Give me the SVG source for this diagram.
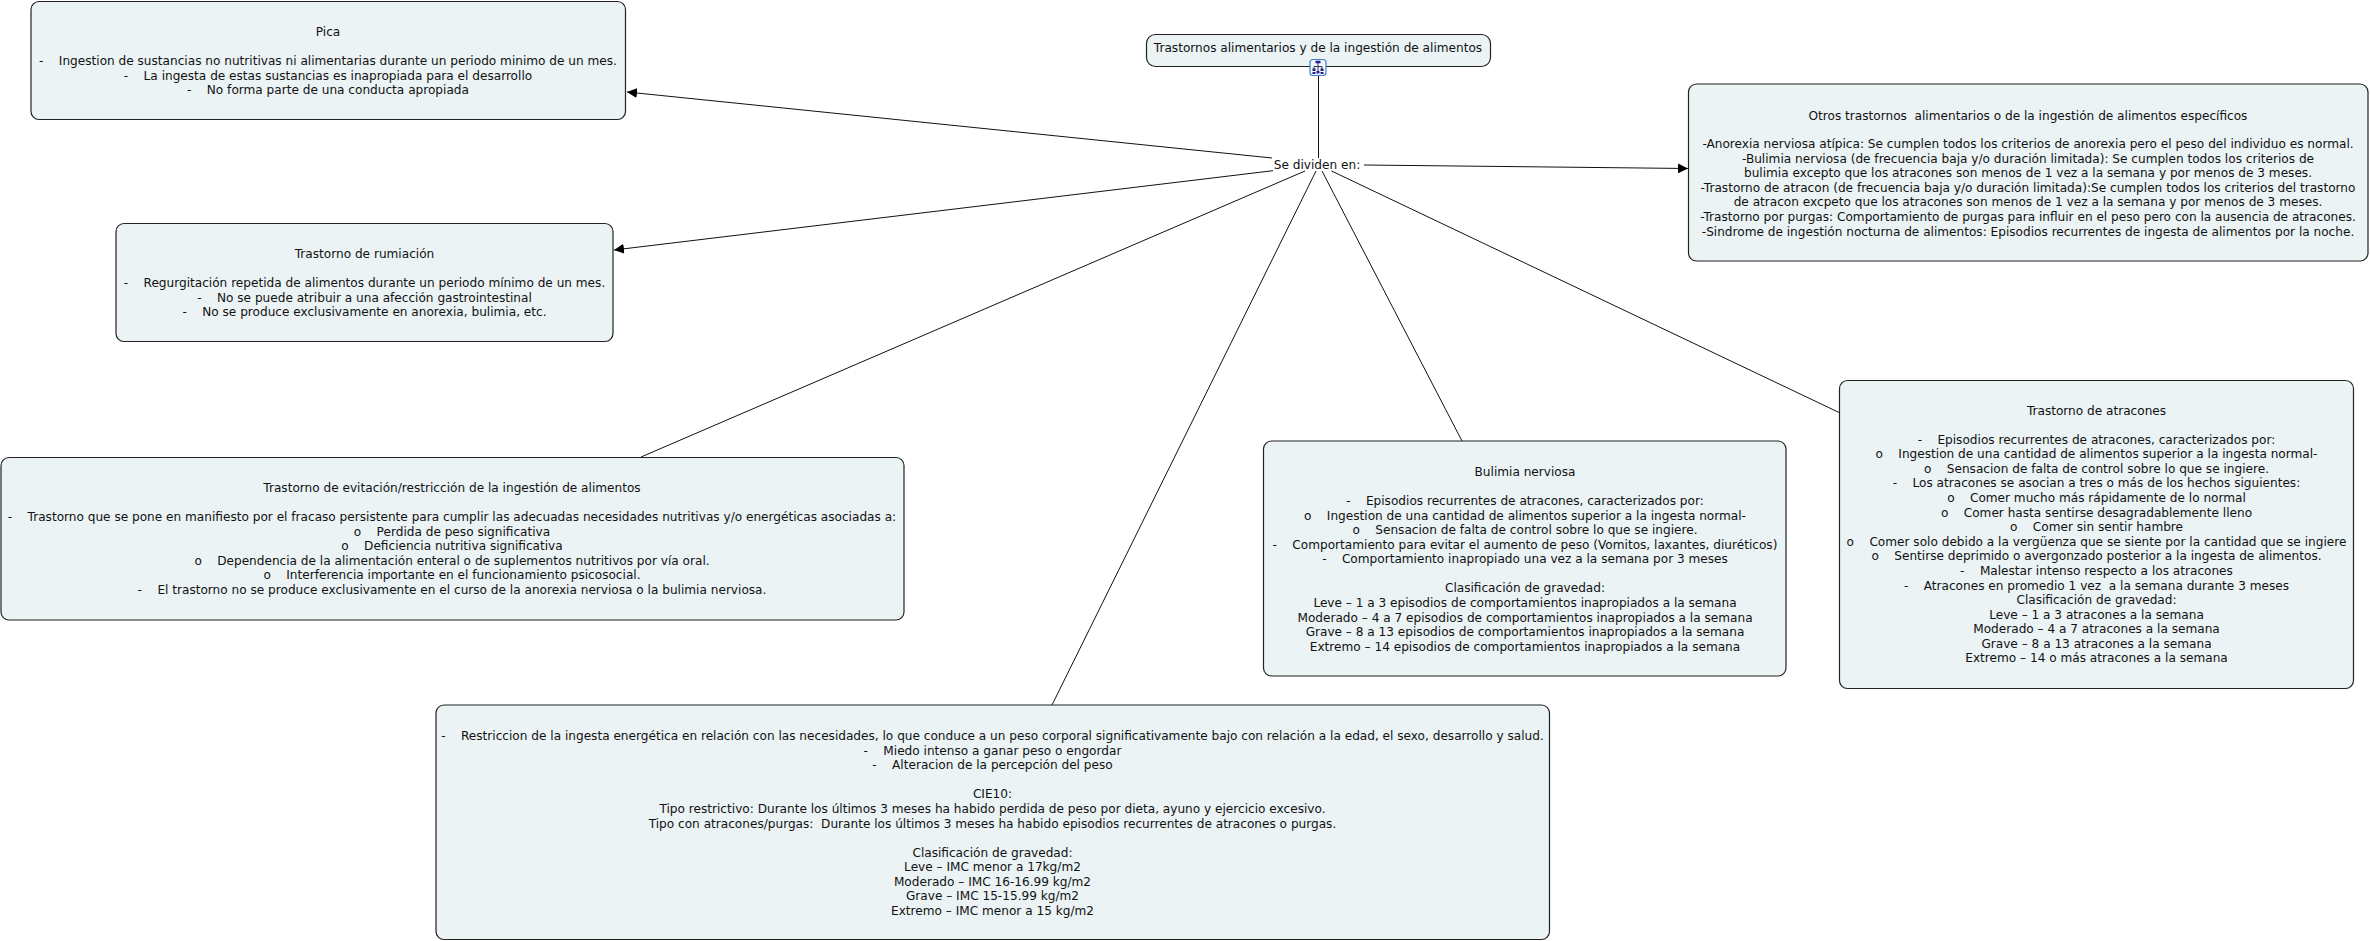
<svg xmlns="http://www.w3.org/2000/svg" width="2370" height="941" viewBox="0 0 2370 941">
<style>
text{font-family:"DejaVu Sans",Verdana,sans-serif;font-size:12.12px;fill:#111;text-anchor:middle;white-space:pre}
.n{fill:#ebf3f5;stroke:#222;stroke-width:1.2}
.c{stroke:#111;stroke-width:1;fill:none}
.a{marker-end:url(#ah)}
</style>
<defs><marker id="ah" markerUnits="userSpaceOnUse" markerWidth="11" markerHeight="11" refX="10" refY="5.500" orient="auto"><path d="M0 0.500L10 5.500L0 10.500Z" fill="#000"/></marker></defs>
<rect width="2370" height="941" fill="#fff"/>
<g id="connectors">
<path class="c" d="M1318.5 76V158"/>
<path class="c a" d="M1272 158L627 92"/>
<path class="c a" d="M1273 170.700L614 250"/>
<path class="c a" d="M1364 165L1688 168.500"/>
<path class="c" d="M1305 171L641 457"/>
<path class="c" d="M1316 171L1052 705"/>
<path class="c" d="M1322 171L1462 441"/>
<path class="c" d="M1331.500 171L1839.500 412.700"/>
</g>
<g id="main"><rect class="n" x="1146.500" y="34.500" width="344" height="32" rx="9"/>
<text x="1318" y="52">Trastornos alimentarios y de la ingestión de alimentos</text>
<rect x="1310" y="59.500" width="16" height="16" rx="3" fill="#f4f8fc" stroke="#3f7fc4" stroke-width="1.200"/>
<path d="M1318 63V71M1314 69V66.500H1322V69" fill="none" stroke="#335" stroke-width="1"/><path d="M1315.500 60.800h5v2.500h-5zM1312.500 68.500h3v2.500h-3zM1320.500 68.500h3v2.500h-3zM1312.500 72h3v2h-3zM1320.500 72h3v2h-3zM1316.500 71h3v2.500h-3z" fill="#228"/></g>
<g id="link-label"><text x="1317" y="168.500">Se dividen en:</text></g>
<g id="pica"><rect class="n" x="31" y="1.500" width="594.500" height="118" rx="8"/>
<text x="328" y="36">Pica</text>
<text x="328" y="65">-    Ingestion de sustancias no nutritivas ni alimentarias durante un periodo minimo de un mes.</text>
<text x="328" y="79.700">-    La ingesta de estas sustancias es inapropiada para el desarrollo</text>
<text x="328" y="94.300">-    No forma parte de una conducta apropiada</text></g>
<g id="rumiacion"><rect class="n" x="116" y="223.500" width="497" height="118" rx="8"/>
<text x="364.500" y="257.700">Trastorno de rumiación</text>
<text x="364.500" y="287">-    Regurgitación repetida de alimentos durante un periodo mínimo de un mes.</text>
<text x="364.500" y="301.500">-    No se puede atribuir a una afección gastrointestinal</text>
<text x="364.500" y="316">-    No se produce exclusivamente en anorexia, bulimia, etc.</text></g>
<g id="otros"><rect class="n" x="1688.500" y="84" width="679.500" height="177" rx="8"/>
<text x="2028" y="119.700">Otros trastornos  alimentarios o de la ingestión de alimentos específicos</text>
<text x="2028" y="148">-Anorexia nerviosa atípica: Se cumplen todos los criterios de anorexia pero el peso del individuo es normal.</text>
<text x="2028" y="162.500">-Bulimia nerviosa (de frecuencia baja y/o duración limitada): Se cumplen todos los criterios de</text>
<text x="2028" y="177.300">bulimia excepto que los atracones son menos de 1 vez a la semana y por menos de 3 meses.</text>
<text x="2028" y="191.700">-Trastorno de atracon (de frecuencia baja y/o duración limitada):Se cumplen todos los criterios del trastorno</text>
<text x="2028" y="206.300">de atracon excpeto que los atracones son menos de 1 vez a la semana y por menos de 3 meses.</text>
<text x="2028" y="221">-Trastorno por purgas: Comportamiento de purgas para influir en el peso pero con la ausencia de atracones.</text>
<text x="2028" y="235.700">-Sindrome de ingestión nocturna de alimentos: Episodios recurrentes de ingesta de alimentos por la noche.</text></g>
<g id="evitacion"><rect class="n" x="1" y="457.500" width="903" height="162.500" rx="8"/>
<text x="452" y="492">Trastorno de evitación/restricción de la ingestión de alimentos</text>
<text x="452" y="520.700">-    Trastorno que se pone en manifiesto por el fracaso persistente para cumplir las adecuadas necesidades nutritivas y/o energéticas asociadas a:</text>
<text x="452" y="535.500">o    Perdida de peso significativa</text>
<text x="452" y="550.300">o    Deficiencia nutritiva significativa</text>
<text x="452" y="565">o    Dependencia de la alimentación enteral o de suplementos nutritivos por vía oral.</text>
<text x="452" y="579.300">o    Interferencia importante en el funcionamiento psicosocial.</text>
<text x="452" y="594.300">-    El trastorno no se produce exclusivamente en el curso de la anorexia nerviosa o la bulimia nerviosa.</text></g>
<g id="bulimia"><rect class="n" x="1263.500" y="441" width="522.500" height="235" rx="8"/>
<text x="1525" y="476">Bulimia nerviosa</text>
<text x="1525" y="505">-    Episodios recurrentes de atracones, caracterizados por:</text>
<text x="1525" y="519.700">o    Ingestion de una cantidad de alimentos superior a la ingesta normal-</text>
<text x="1525" y="534">o    Sensacion de falta de control sobre lo que se ingiere.</text>
<text x="1525" y="548.700">-    Comportamiento para evitar el aumento de peso (Vomitos, laxantes, diuréticos)</text>
<text x="1525" y="563.300">-    Comportamiento inapropiado una vez a la semana por 3 meses</text>
<text x="1525" y="592.300">Clasificación de gravedad:</text>
<text x="1525" y="607">Leve – 1 a 3 episodios de comportamientos inapropiados a la semana</text>
<text x="1525" y="621.700">Moderado – 4 a 7 episodios de comportamientos inapropiados a la semana</text>
<text x="1525" y="636">Grave – 8 a 13 episodios de comportamientos inapropiados a la semana</text>
<text x="1525" y="650.700">Extremo – 14 episodios de comportamientos inapropiados a la semana</text></g>
<g id="atracones"><rect class="n" x="1839.500" y="380.500" width="514" height="308" rx="8"/>
<text x="2096.500" y="414.700">Trastorno de atracones</text>
<text x="2096.500" y="443.700">-    Episodios recurrentes de atracones, caracterizados por:</text>
<text x="2096.500" y="458.300">o    Ingestion de una cantidad de alimentos superior a la ingesta normal-</text>
<text x="2096.500" y="473">o    Sensacion de falta de control sobre lo que se ingiere.</text>
<text x="2096.500" y="487.300">-    Los atracones se asocian a tres o más de los hechos siguientes:</text>
<text x="2096.500" y="502">o    Comer mucho más rápidamente de lo normal</text>
<text x="2096.500" y="516.700">o    Comer hasta sentirse desagradablemente lleno</text>
<text x="2096.500" y="531">o    Comer sin sentir hambre</text>
<text x="2096.500" y="545.700">o    Comer solo debido a la vergüenza que se siente por la cantidad que se ingiere</text>
<text x="2096.500" y="560.300">o    Sentirse deprimido o avergonzado posterior a la ingesta de alimentos.</text>
<text x="2096.500" y="575">-    Malestar intenso respecto a los atracones</text>
<text x="2096.500" y="589.700">-    Atracones en promedio 1 vez  a la semana durante 3 meses</text>
<text x="2096.500" y="604">Clasificación de gravedad:</text>
<text x="2096.500" y="618.700">Leve – 1 a 3 atracones a la semana</text>
<text x="2096.500" y="633.300">Moderado – 4 a 7 atracones a la semana</text>
<text x="2096.500" y="647.700">Grave – 8 a 13 atracones a la semana</text>
<text x="2096.500" y="662.300">Extremo – 14 o más atracones a la semana</text></g>
<g id="anorexia"><rect class="n" x="436" y="705" width="1113.500" height="234.500" rx="8"/>
<text x="992.500" y="740.300">-    Restriccion de la ingesta energética en relación con las necesidades, lo que conduce a un peso corporal significativamente bajo con relación a la edad, el sexo, desarrollo y salud.</text>
<text x="992.500" y="754.700">-    Miedo intenso a ganar peso o engordar</text>
<text x="992.500" y="769.300">-    Alteracion de la percepción del peso</text>
<text x="992.500" y="798.300">CIE10:</text>
<text x="992.500" y="813">Tipo restrictivo: Durante los últimos 3 meses ha habido perdida de peso por dieta, ayuno y ejercicio excesivo.</text>
<text x="992.500" y="827.700">Tipo con atracones/purgas:  Durante los últimos 3 meses ha habido episodios recurrentes de atracones o purgas.</text>
<text x="992.500" y="856.700">Clasificación de gravedad:</text>
<text x="992.500" y="871.300">Leve – IMC menor a 17kg/m2</text>
<text x="992.500" y="885.700">Moderado – IMC 16-16.99 kg/m2</text>
<text x="992.500" y="900.300">Grave – IMC 15-15.99 kg/m2</text>
<text x="992.500" y="915">Extremo – IMC menor a 15 kg/m2</text></g>
</svg>
